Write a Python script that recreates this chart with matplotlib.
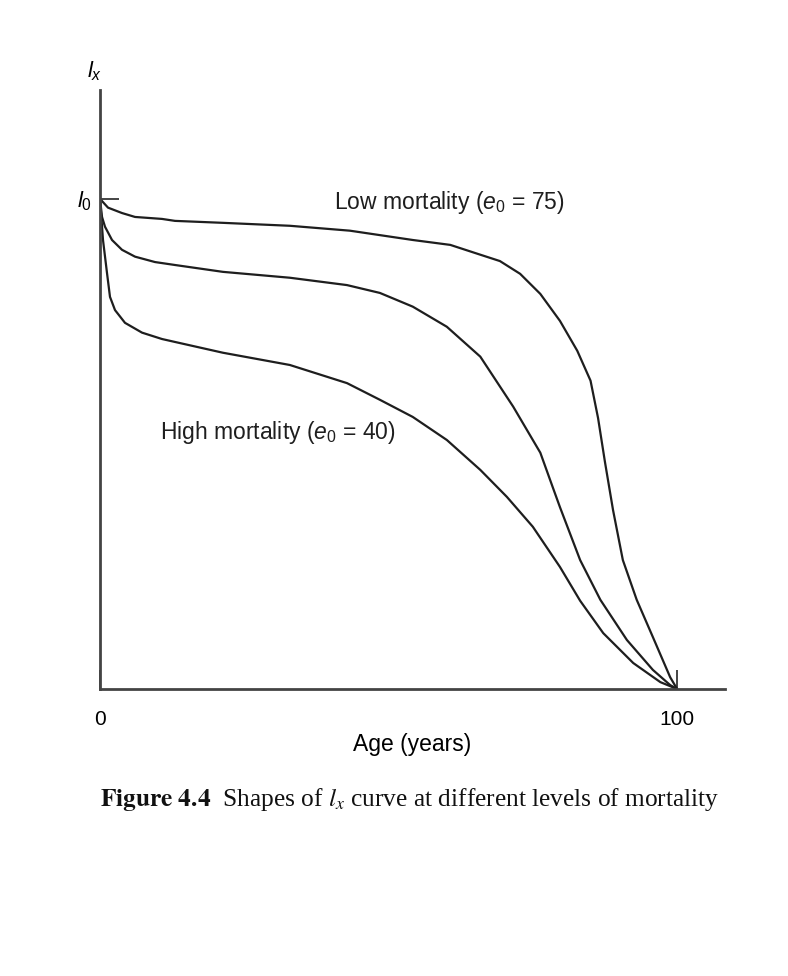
import numpy as np
import matplotlib
matplotlib.use('Agg')
import matplotlib.pyplot as plt

# Shapes of l_x curve (l_0 = 1)
low_age = [0, 1.39, 3.81, 6.07, 10.74, 12.99, 21.3, 32.9, 43.3, 54.2, 60.7,
           65.9, 69.3, 72.8, 76.3, 79.7, 82.7, 85.0, 86.3, 87.5, 88.9, 90.6,
           93.0, 95.8, 98.8, 100]
low_lx = [1.0, 0.982, 0.971, 0.963, 0.959, 0.955, 0.951, 0.945, 0.935, 0.916,
          0.906, 0.886, 0.873, 0.847, 0.806, 0.751, 0.690, 0.629, 0.553, 0.463,
          0.365, 0.263, 0.182, 0.106, 0.024, 0.0]

mid_age = [0, 0.35, 0.87, 2.08, 3.81, 6.07, 9.53, 12.99, 21.3, 32.9, 42.8,
           48.5, 54.2, 60.1, 65.9, 71.6, 76.3, 78.5, 79.7, 83.2, 86.7, 91.3,
           95.8, 98.8, 100]
mid_lx = [1.0, 0.963, 0.943, 0.916, 0.896, 0.882, 0.871, 0.865, 0.851, 0.839,
          0.824, 0.808, 0.780, 0.739, 0.678, 0.576, 0.482, 0.410, 0.371, 0.263,
          0.182, 0.100, 0.039, 0.008, 0.0]

high_age = [0, 0.52, 1.21, 1.73, 2.60, 4.33, 7.28, 10.74, 12.99, 21.3, 32.9,
            42.8, 48.5, 54.2, 60.1, 65.9, 70.5, 75.0, 79.7, 83.2, 87.2, 92.4,
            97.1, 100]
high_lx = [1.0, 0.916, 0.849, 0.800, 0.773, 0.747, 0.727, 0.714, 0.708, 0.686,
           0.661, 0.624, 0.590, 0.555, 0.508, 0.447, 0.392, 0.331, 0.249, 0.180,
           0.114, 0.053, 0.014, 0.0]

x_ticks = [0, 100]
x_ticklabels = ['0', '100']
low_label = r'Low mortality ($e_0$ = 75)'
high_label = r'High mortality ($e_0$ = 40)'

plt.rcParams['font.family'] = ['Liberation Sans', 'DejaVu Sans']
plt.rcParams['mathtext.fontset'] = 'custom'
plt.rcParams['mathtext.rm'] = 'Liberation Sans'
plt.rcParams['mathtext.it'] = 'Liberation Sans:italic'

ink = '#1e1e1e'
axc = '#444444'
fig = plt.figure(figsize=(7.88, 9.76), dpi=100)
ax = fig.add_axes([100 / 788, 1 - 689 / 976, 625 / 788, 599 / 976])

for a, l in [(low_age, low_lx), (mid_age, mid_lx), (high_age, high_lx)]:
    ax.plot(a, l, color=ink, lw=1.6, solid_joinstyle='round', solid_capstyle='round')

ax.set_xlim(0, 108.3)
ax.set_ylim(0, 1.222)
for s in ['top', 'right']:
    ax.spines[s].set_visible(False)
for s in ['left', 'bottom']:
    ax.spines[s].set_color(axc)
    ax.spines[s].set_linewidth(2.0)

ax.set_xticks(x_ticks)
ax.set_xticklabels(x_ticklabels, fontsize=15)
ax.tick_params(axis='x', direction='in', length=14, width=1.4, color=axc, pad=15)
ax.set_yticks([1])
ax.set_yticklabels([r'$l_0$'], fontsize=16)
ax.tick_params(axis='y', direction='in', length=14, width=1.4, color=axc, pad=6)
ax.set_xlabel('Age (years)', fontsize=16.5, labelpad=3)

ax.annotate(r'$l_x$', xy=(0, 1), xycoords='axes fraction', xytext=(-4, 5),
            textcoords='offset points', ha='center', va='bottom', fontsize=16)

ax.text(40.6, 0.992, low_label, fontsize=16.5, ha='left', va='center', color=ink)
ax.text(10.4, 0.524, high_label, fontsize=16.5, ha='left', va='center', color=ink)

fig.text(100 / 788, 1 - 806 / 976,
         r'$\mathbf{Figure\ 4.4}$  Shapes of $l_x$ curve at different levels of mortality',
         fontsize=18.3, family='Liberation Serif', math_fontfamily='stix',
         ha='left', va='baseline', color='#111111')

fig.savefig('out.png', dpi=100, facecolor='white')
